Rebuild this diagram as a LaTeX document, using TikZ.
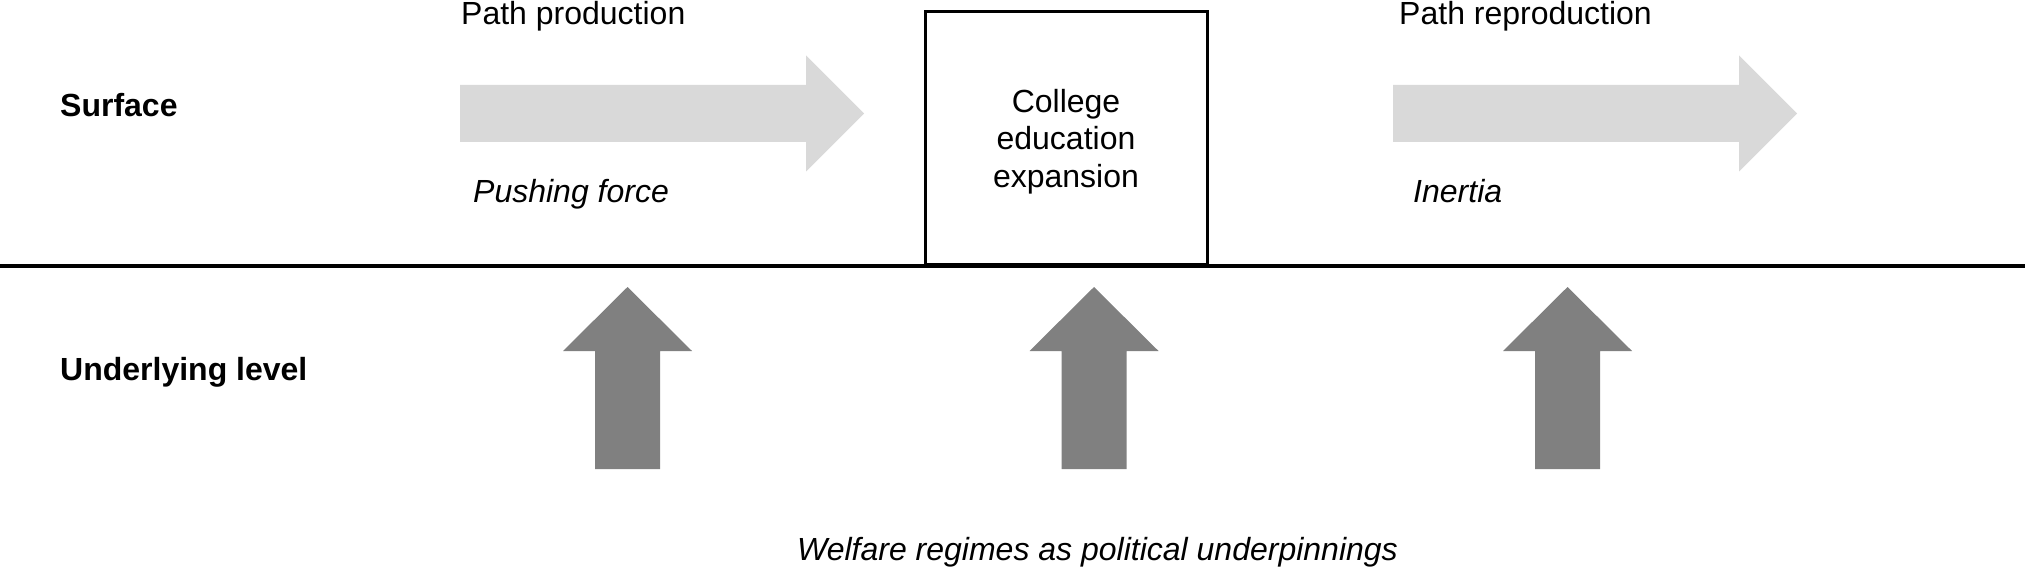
\documentclass[tikz,border=0pt]{standalone}
\usepackage{fontspec}
\setmainfont{Liberation Sans}
\definecolor{lightarrow}{HTML}{D9D9D9}
\definecolor{darkarrow}{HTML}{808080}
\tikzset{
  lbl/.style={inner sep=0pt, anchor=base west, font=\fontsize{32}{37.5}\selectfont},
  lblbold/.style={lbl, font=\fontsize{32}{37.5}\selectfont\bfseries},
  lblit/.style={lbl, font=\fontsize{32}{37.5}\selectfont\itshape},
  centerbox/.style={draw=black, line width=3pt, minimum width=282pt, minimum height=253pt,
    inner sep=0pt},
  boxtext/.style={inner sep=0pt, align=center, font=\fontsize{32}{37.5}\selectfont},
  rightarrow/.pic={\fill[lightarrow] (0,-28.5) -- (346,-28.5) -- (346,-58) -- (404,0)
     -- (346,58) -- (346,28.5) -- (0,28.5) -- cycle;},
  uparrow/.pic={\fill[darkarrow] (-32.5,0) -- (-32.5,-118) -- (-64.5,-118) -- (0,-182)
     -- (64.5,-118) -- (32.5,-118) -- (32.5,0) -- cycle;}
}
\begin{document}
\begin{tikzpicture}[x=1pt,y=-1pt]
\useasboundingbox (0,0) rectangle (2025,569);
% divider
\coordinate (lineL) at (0,266);
\coordinate (lineR) at (2025,266);
\draw[line width=3pt] (lineL) -- (lineR);
% centre box
\node[centerbox, fill=white] (box) at (1066,138.5) {};
\node[boxtext, yshift=-3pt] (boxtxt) at (box.center) {College\\education\\expansion};
% surface arrows
\pic at (460,113.5) {rightarrow};
\pic at (1393,113.5) {rightarrow};
% underlying arrows
\pic at (627.5,469) {uparrow};
\pic at (1094,469) {uparrow};
\pic at (1567.5,469) {uparrow};
% labels
\node[lbl] (pp) at (461,25) {Path production};
\node[lbl] (pr) at (1399,25) {Path reproduction};
\node[lblbold] (surf) at (60,117) {Surface};
\node[lblbold] (under) at (60,380) {Underlying level};
\node[lblit] (push) at (473,203) {Pushing force};
\node[lblit] (inert) at (1413,203) {Inertia};
\node[lblit] (welf) at (797,560) {Welfare regimes as political underpinnings};
\end{tikzpicture}
\end{document}
